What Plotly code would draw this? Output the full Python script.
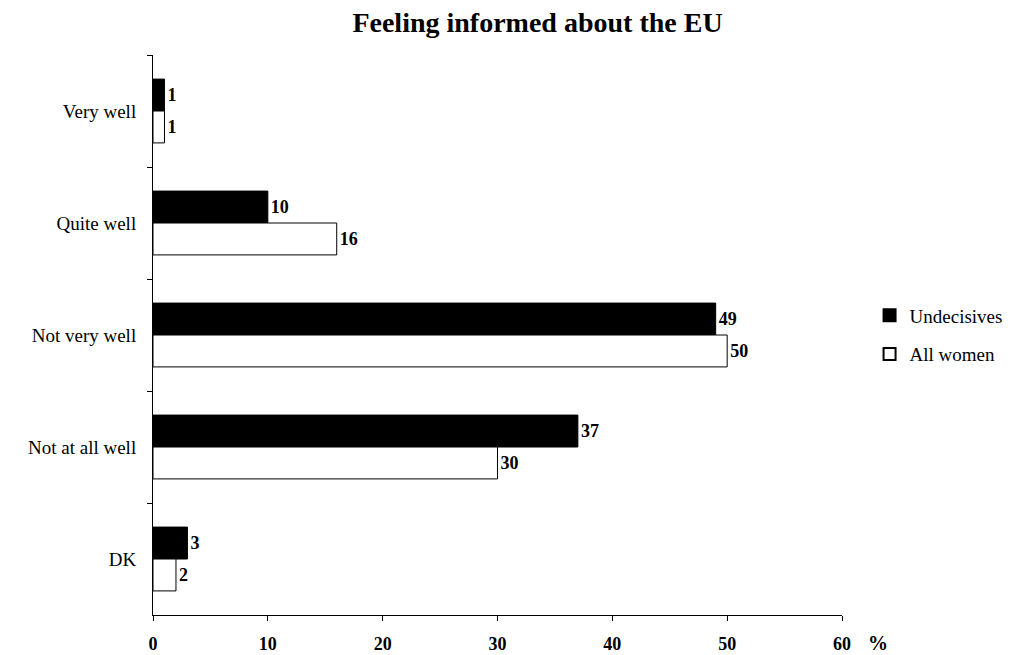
import plotly.graph_objects as go

categories = ["Very well", "Quite well", "Not very well", "Not at all well", "DK"]
undecisives = [1, 10, 49, 37, 3]
all_women = [1, 16, 50, 30, 2]
x_ticks = [0, 10, 20, 30, 40, 50, 60]

FONT = "Liberation Serif, Times New Roman, serif"

fig = go.Figure()
fig.add_trace(go.Bar(
    y=categories, x=undecisives, orientation="h", name="Undecisives", legendgroup="u",
    marker=dict(color="black", line=dict(color="black", width=1)),
    text=[f"<b>{v}</b>" for v in undecisives], textposition="outside",
    textfont=dict(family=FONT, size=18, color="black"), cliponaxis=False,
))
fig.add_trace(go.Bar(
    y=categories, x=all_women, orientation="h", name="All women", legendgroup="a",
    marker=dict(color="white", line=dict(color="black", width=1)),
    text=[f"<b>{v}</b>" for v in all_women], textposition="outside",
    textfont=dict(family=FONT, size=18, color="black"), cliponaxis=False,
))

fig.update_layout(
    width=1018, height=655,
    margin=dict(l=153, r=176, t=55, b=40, autoexpand=False),
    paper_bgcolor="white", plot_bgcolor="white",
    barmode="group", bargap=0.43, bargroupgap=0,
    font=dict(family=FONT, size=19, color="black"),
    title=dict(text="<b>Feeling informed about the EU</b>", x=0.528, xanchor="center",
               y=0.966, yanchor="middle", font=dict(family=FONT, size=28, color="black")),
    legend=dict(x=1.04, y=0.5, xanchor="left", yanchor="middle",
                font=dict(family=FONT, size=19, color="black"),
                tracegroupgap=11, itemsizing="constant"),
    xaxis=dict(range=[0, 60], tickvals=x_ticks, ticktext=[f"<b>{v}</b>" for v in x_ticks],
               showline=True, linecolor="black", linewidth=1, ticks="outside",
               ticklen=5, tickcolor="black", showgrid=False, zeroline=False,
               automargin=False, ticklabelstandoff=7,
               tickfont=dict(family=FONT, size=18, color="black")),
    yaxis=dict(autorange="reversed", showline=True, linecolor="black", linewidth=1,
               ticks="outside", tickson="boundaries", ticklen=5, tickcolor="black",
               showgrid=False, automargin=False, ticklabelstandoff=12,
               tickfont=dict(family=FONT, size=19, color="black")),
    annotations=[dict(text="<b>%</b>", x=1.035, y=-0.05, xref="paper", yref="paper",
                      showarrow=False, xanchor="left", yanchor="middle",
                      font=dict(family=FONT, size=20, color="black"))],
)
fig.write_html("out.html", config={"displayModeBar": False},
               post_script="document.body.style.margin='0';document.body.style.overflow='hidden';")
